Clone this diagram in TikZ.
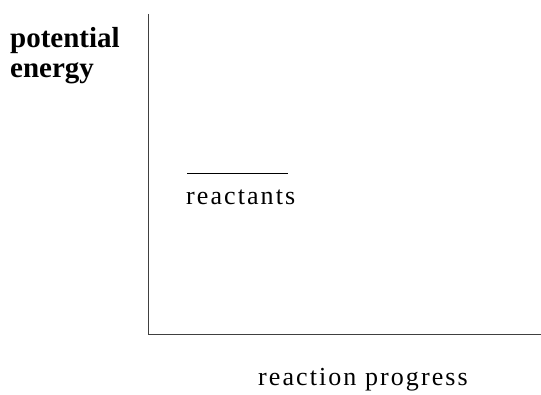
\documentclass[tikz,border=0pt]{standalone}
\usepackage{fontspec}
\setmainfont{Liberation Serif}
\newfontfamily\spaced[LetterSpace=8]{Liberation Serif}
\begin{document}
\begin{tikzpicture}[x=1pt,y=1pt,
  axis/.style={draw=black!75,line width=0.9pt},
  lbl/.style={inner sep=0pt,anchor=base west,font=\spaced\fontsize{26}{28}\selectfont},
  ylbl/.style={inner sep=0pt,anchor=base west,align=left,font=\bfseries\fontsize{29}{30}\selectfont}]
\useasboundingbox (0,0) rectangle (541,394);
\coordinate (top) at (148,380);
\coordinate (origin) at (148,60);
\coordinate (right) at (541,60);
\draw[axis] (top) -- (origin) -- (right);
\node[ylbl] (ylab) at (10,346) {potential};
\node[ylbl] (ylab2) at (10,316) {energy};
\coordinate (ra) at (187,221);
\coordinate (rb) at (288,221);
\draw[black,line width=0.8pt] (ra) -- (rb);
\node[lbl] (react) at (186,189) {reactants};
\node[lbl] (xlab) at (258,9) {reaction progress};
\end{tikzpicture}
\end{document}
